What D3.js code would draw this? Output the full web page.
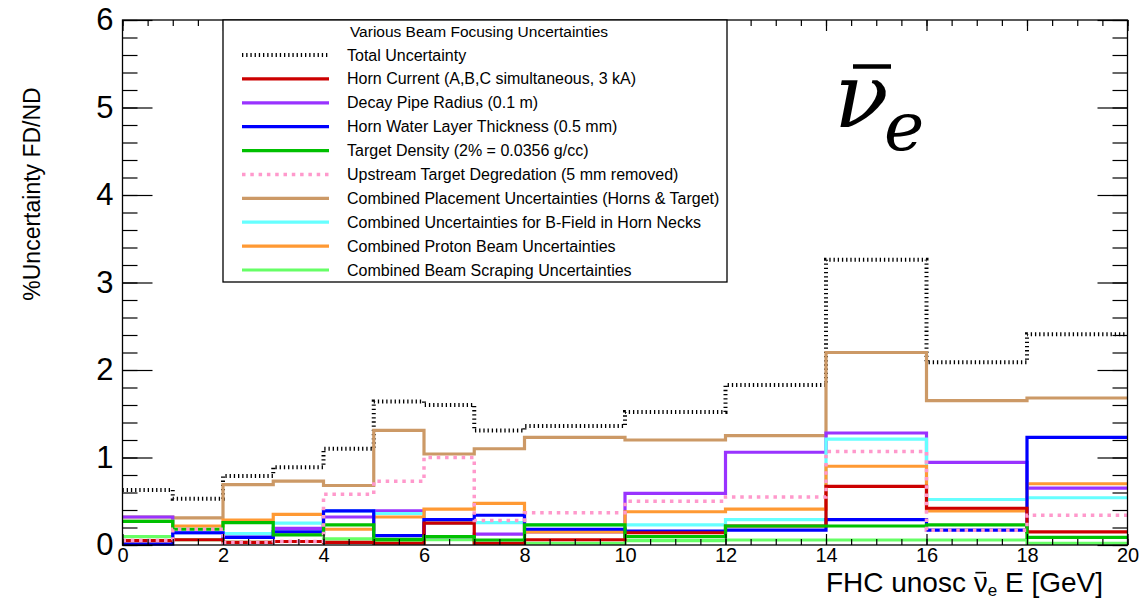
<!DOCTYPE html>
<html>
<head>
<meta charset="utf-8">
<script src="https://cdn.jsdelivr.net/npm/d3@7"></script>
<style>
  body { margin: 0; background: #fff; }
  svg { display: block; }
  text { font-family: "Liberation Sans", Arial, Helvetica, sans-serif; fill: #000; }
</style>
</head>
<body>
<svg id="chart" width="1140" height="602"></svg>
<script>
// Variable bin edges of the FD/ND ratio histograms (GeV)
const binEdges = [0, 1, 2, 3, 4, 5, 6, 7, 8, 10, 12, 14, 16, 18, 20];

// Percent uncertainty per bin for each beam-focusing systematic
const totalUncertainty  = [0.63, 0.53, 0.79, 0.89, 1.10, 1.64, 1.60, 1.31, 1.36, 1.52, 1.83, 3.26, 2.09, 2.41];
const hornCurrent       = [0.05, 0.06, 0.03, 0.04, 0.03, 0.02, 0.25, 0.02, 0.06, 0.14, 0.217, 0.67, 0.42, 0.15];
const decayPipeRadius   = [0.32, 0.14, 0.09, 0.19, 0.32, 0.39, 0.095, 0.125, 0.15, 0.59, 1.06, 1.28, 0.945, 0.65];
const hornWaterLayer    = [0.01, 0.14, 0.088, 0.15, 0.39, 0.107, 0.29, 0.34, 0.18, 0.16, 0.17, 0.29, 0.17, 1.23];
const targetDensity     = [0.27, 0.18, 0.255, 0.115, 0.23, 0.065, 0.095, 0.057, 0.23, 0.095, 0.217, 0.217, 0.23, 0.088];
const upstreamDegrade   = [0.054, 0.18, 0.03, 0.04, 0.58, 0.73, 1.00, 0.28, 0.37, 0.50, 0.55, 1.07, 0.17, 0.34];
const placement         = [0.32, 0.31, 0.69, 0.73, 0.68, 1.31, 1.04, 1.10, 1.23, 1.20, 1.25, 2.20, 1.65, 1.68];
const bFieldHornNecks   = [0.27, 0.14, 0.13, 0.25, 0.39, 0.36, 0.25, 0.255, 0.23, 0.23, 0.29, 1.21, 0.52, 0.54];
const protonBeam        = [0.27, 0.217, 0.286, 0.35, 0.18, 0.32, 0.41, 0.476, 0.15, 0.38, 0.41, 0.90, 0.39, 0.70];
const beamScraping      = [0.095, 0.06, 0.03, 0.04, 0.07, 0.03, 0.06, 0.02, 0.02, 0.05, 0.057, 0.057, 0.057, 0.02];

// Axis ticks
const xMajorTicks = d3.range(0, 21, 2);
const xMinorTicks = d3.range(0, 20.01, 0.5);
const yMajorTicks = [0, 1, 2, 3, 4, 5, 6];
const yMinorTicks = d3.range(0, 6.001, 0.2);

const legendTitle = "Various Beam Focusing Uncertainties";

// Legend order
const series = [
  { key: "total",   label: "Total Uncertainty",                                 values: totalUncertainty, color: "#000000", width: 4,   dash: "1.3 2.9" },
  { key: "horn",    label: "Horn Current (A,B,C simultaneous, 3 kA)",           values: hornCurrent,      color: "#cc0000", width: 3.2 },
  { key: "pipe",    label: "Decay Pipe Radius (0.1 m)",                         values: decayPipeRadius,  color: "#9933ff", width: 3.2 },
  { key: "water",   label: "Horn Water Layer Thickness (0.5 mm)",               values: hornWaterLayer,   color: "#0000ff", width: 3.2 },
  { key: "density", label: "Target Density (2% = 0.0356 g/cc)",                 values: targetDensity,    color: "#00c000", width: 3.2 },
  { key: "degrade", label: "Upstream Target Degredation (5 mm removed)",        values: upstreamDegrade,  color: "#ff99cc", width: 3.5, dash: "3.5 4.8" },
  { key: "place",   label: "Combined Placement Uncertainties (Horns & Target)", values: placement,        color: "#cc9966", width: 3.2 },
  { key: "bfield",  label: "Combined Uncertainties for B-Field in Horn Necks",  values: bFieldHornNecks,  color: "#66ffff", width: 3.2 },
  { key: "proton",  label: "Combined Proton Beam Uncertainties",                values: protonBeam,       color: "#ff9933", width: 3.2 },
  { key: "scrape",  label: "Combined Beam Scraping Uncertainties",              values: beamScraping,     color: "#66ff66", width: 3.2 }
];

// Stacking order of the histogram outlines, bottom first
const drawOrder = ["total", "place", "scrape", "pipe", "bfield", "proton", "water", "horn", "density", "degrade"];

const svg = d3.select("#chart");
svg.append("rect").attr("width", 1140).attr("height", 602).attr("fill", "#fff");

const frame = { left: 122.5, right: 1127.5, top: 20, bottom: 545 };
const x = d3.scaleLinear().domain([0, 20]).range([frame.left, frame.right]);
const y = d3.scaleLinear().domain([0, 6]).range([frame.bottom, frame.top]);

// Histogram outlines
const stepLine = d3.line()
  .x(d => x(d.e))
  .y(d => y(d.v))
  .curve(d3.curveStepAfter);

const byKey = Object.fromEntries(series.map(s => [s.key, s]));
const hist = svg.append("g").attr("class", "hists");
drawOrder.forEach(k => {
  const s = byKey[k];
  const pts = binEdges.map((e, i) => ({ e, v: s.values[Math.min(i, s.values.length - 1)] }));
  hist.append("path")
    .attr("d", stepLine(pts))
    .attr("fill", "none")
    .attr("stroke", s.color)
    .attr("stroke-width", s.width)
    .attr("stroke-dasharray", s.dash || null)
    .attr("stroke-linejoin", "miter")
    .attr("stroke-linecap", "butt");
});

// Axes (ticks point into the frame)
function styleAxis(g) {
  g.selectAll(".domain").remove();
  g.selectAll(".tick line").attr("stroke", "#000").attr("stroke-width", 1.2);
}

svg.append("g").attr("transform", `translate(0,${frame.bottom})`)
  .call(d3.axisBottom(x).tickValues(xMinorTicks).tickSize(-6).tickFormat(""))
  .call(styleAxis);
const xAxisG = svg.append("g").attr("transform", `translate(0,${frame.bottom})`)
  .call(d3.axisBottom(x).tickValues(xMajorTicks).tickSize(-11).tickPadding(3).tickFormat(d3.format("d")))
  .call(styleAxis);
xAxisG.selectAll(".tick text").style("font-size", "20px");

svg.append("g").attr("transform", `translate(${frame.left},0)`)
  .call(d3.axisLeft(y).tickValues(yMinorTicks).tickSize(-15).tickFormat(""))
  .call(styleAxis);
const yAxisG = svg.append("g").attr("transform", `translate(${frame.left},0)`)
  .call(d3.axisLeft(y).tickValues(yMajorTicks).tickSize(-30).tickPadding(9).tickFormat(d3.format("d")))
  .call(styleAxis);
yAxisG.selectAll(".tick text").style("font-size", "31px");

svg.append("g").attr("transform", `translate(${frame.right},0)`)
  .call(d3.axisRight(y).tickValues(yMinorTicks).tickSize(-15).tickFormat(""))
  .call(styleAxis);
svg.append("g").attr("transform", `translate(${frame.right},0)`)
  .call(d3.axisRight(y).tickValues(yMajorTicks).tickSize(-30).tickFormat(""))
  .call(styleAxis);

svg.append("g").attr("transform", `translate(0,${frame.top})`)
  .call(d3.axisTop(x).tickValues(xMinorTicks).tickSize(-6).tickFormat(""))
  .call(styleAxis);
svg.append("g").attr("transform", `translate(0,${frame.top})`)
  .call(d3.axisTop(x).tickValues(xMajorTicks).tickSize(-11).tickFormat(""))
  .call(styleAxis);

// Frame
svg.append("rect")
  .attr("x", frame.left).attr("y", frame.top)
  .attr("width", frame.right - frame.left).attr("height", frame.bottom - frame.top)
  .attr("fill", "none").attr("stroke", "#000").attr("stroke-width", 1.3);

// Y title
svg.append("text")
  .attr("transform", `translate(40,194) rotate(-90)`)
  .attr("text-anchor", "middle")
  .style("font-size", "23px")
  .text("%Uncertainty FD/ND");

// X title with anti-neutrino symbol
function richText(pieces, rightX, baseY) {
  const g = svg.append("g");
  let cx = 0;
  const placed = [];
  pieces.forEach(p => {
    const t = g.append("text")
      .attr("x", cx).attr("y", p.dy || 0)
      .attr("xml:space", "preserve")
      .style("white-space", "pre")
      .style("font-size", p.size + "px")
      .text(p.text);
    const w = t.node().getComputedTextLength();
    placed.push({ x: cx, w, p });
    cx += w;
  });
  placed.filter(d => d.p.bar).forEach(d => {
    g.append("line")
      .attr("x1", d.x + d.w * 0.12).attr("x2", d.x + d.w * 0.88)
      .attr("y1", -d.p.size * 0.69).attr("y2", -d.p.size * 0.69)
      .attr("stroke", "#000").attr("stroke-width", 1.6);
  });
  g.attr("transform", `translate(${rightX - cx},${baseY})`);
}
richText([
  { text: "FHC unosc ", size: 28 },
  { text: "\u03BD", size: 28, bar: true },
  { text: "e", size: 17, dy: 4 },
  { text: " E [GeV]", size: 28 }
], 1103, 592);

// Legend
const legend = svg.append("g");
legend.append("rect")
  .attr("x", 223).attr("y", 20).attr("width", 504).attr("height", 262)
  .attr("fill", "#fff").attr("stroke", "#000").attr("stroke-width", 1.3);
legend.append("text")
  .attr("x", 479).attr("y", 37)
  .attr("text-anchor", "middle")
  .style("font-size", "15.5px")
  .text(legendTitle);
const rowY = d3.scaleLinear().domain([0, 9]).range([55, 270]);
series.forEach((s, i) => {
  const yy = rowY(i);
  legend.append("line")
    .attr("x1", 242).attr("x2", 329)
    .attr("y1", yy).attr("y2", yy)
    .attr("stroke", s.color)
    .attr("stroke-width", s.width)
    .attr("stroke-dasharray", s.dash || null);
  legend.append("text")
    .attr("x", 347).attr("y", yy + 5.5)
    .style("font-size", "16px")
    .text(s.label);
});

// Large anti-electron-neutrino label
const nu = svg.append("g");
nu.append("text")
  .attr("x", 834).attr("y", 127)
  .style("font-family", "'DejaVu Serif', serif")
  .style("font-style", "italic")
  .style("font-size", "90px")
  .text("\u03BD");
nu.append("text")
  .attr("x", 884).attr("y", 150)
  .style("font-family", "'DejaVu Serif', serif")
  .style("font-style", "italic")
  .style("font-size", "68px")
  .text("e");
nu.append("line")
  .attr("x1", 853).attr("x2", 891)
  .attr("y1", 66.5).attr("y2", 66.5)
  .attr("stroke", "#000").attr("stroke-width", 4.5);
</script>
</body>
</html>
